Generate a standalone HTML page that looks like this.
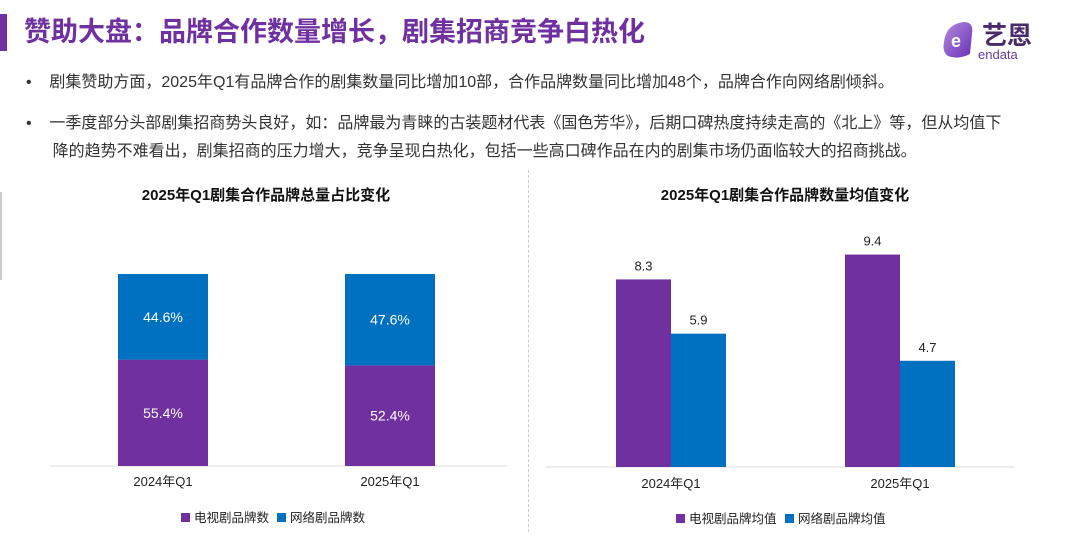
<!DOCTYPE html>
<html><head><meta charset="utf-8">
<style>
body{margin:0;width:1080px;height:537px;background:#fff;position:relative;overflow:hidden;font-family:"Liberation Sans","Noto Sans CJK SC",sans-serif;}
.abs{position:absolute;}
</style></head>
<body>
<div class="abs" style="left:0;top:14px;width:7px;height:37px;background:#7030a0"></div>
<div class="abs" style="left:24px;top:14px;font-size:27px;font-weight:bold;color:#7030a0;line-height:36px;white-space:nowrap">赞助大盘：品牌合作数量增长，剧集招商竞争白热化</div>
<div class="abs" style="left:940px;top:14px;width:115px;height:50px">
<svg width="115" height="50"><defs><linearGradient id="lg" x1="0" y1="0" x2="1" y2="1"><stop offset="0" stop-color="#b58be0"/><stop offset="1" stop-color="#6a2fb5"/></linearGradient></defs>
<path d="M4 28 Q6 10 24 8 Q34 8 32 20 L30 40 Q18 46 8 42 Q2 38 4 28Z" fill="url(#lg)"/>
<text x="11" y="33" font-size="18" font-weight="bold" fill="#fff" font-family="Liberation Sans">e</text>
<text x="42" y="30" font-size="25" font-weight="bold" fill="#4a2a6a" font-family="Noto Sans CJK SC">艺恩</text>
<text x="38" y="45" font-size="13" fill="#6a3aa0" font-family="Liberation Sans">endata</text></svg></div>
<div class="abs" style="left:26px;top:72px;font-size:16px;color:#333;line-height:22px;white-space:nowrap">•&nbsp;&nbsp;&nbsp;&nbsp;剧集赞助方面，2025年Q1有品牌合作的剧集数量同比增加10部，合作品牌数量同比增加48个，品牌合作向网络剧倾斜。</div>
<div class="abs" style="left:26px;top:110px;font-size:16px;color:#333;line-height:28px;width:1040px;white-space:nowrap">•&nbsp;&nbsp;&nbsp;&nbsp;一季度部分头部剧集招商势头良好，如：品牌最为青睐的古装题材代表《国色芳华》，后期口碑热度持续走高的《北上》等，但从均值下<br>&nbsp;&nbsp;&nbsp;&nbsp;&nbsp;&nbsp;降的趋势不难看出，剧集招商的压力增大，竞争呈现白热化，包括一些高口碑作品在内的剧集市场仍面临较大的招商挑战。</div>
<div class="abs" style="left:0;top:192px;width:2px;height:88px;background:#ccc"></div>
<div class="abs" style="left:528px;top:170px;height:362px;border-left:1px dashed #ccc"></div>
<svg id="c" class="abs" style="left:0;top:0" width="1080" height="537"></svg>
<script>
const cats=["2024年Q1","2025年Q1"];
const tvShare=[55.4,52.4];
const netShare=[44.6,47.6];
const tvAvg=[8.3,9.4];
const netAvg=[5.9,4.7];
const P="#7030a0",B="#0070c0";
const svg=document.getElementById('c');
function el(t,a,txt){const e=document.createElementNS("http://www.w3.org/2000/svg",t);for(const k in a)e.setAttribute(k,a[k]);if(txt!=null)e.textContent=txt;svg.appendChild(e);return e;}
const F='"Liberation Sans","Noto Sans CJK SC",sans-serif';
let t=el('text',{x:266,y:200,'text-anchor':'middle','font-size':15,'font-weight':'bold','font-family':F,fill:'#111'},'2025年Q1剧集合作品牌总量占比变化');

const base1=466,h1=192;
const ys=v=>v/100*h1;
let ax=el('line',{x1:50,x2:507,y1:base1,y2:base1,stroke:'#ddd'});

const lx=[163,390];
cats.forEach((c,i)=>{
 const x=lx[i]-45,htv=ys(tvShare[i]),hn=ys(netShare[i]);
 let r=el('rect',{x:x,y:base1-htv,width:90,height:htv,fill:P});
 
 let r2=el('rect',{x:x,y:base1-htv-hn,width:90,height:hn,fill:B});
 
 let a=el('text',{x:lx[i],y:base1-htv/2+5,'text-anchor':'middle','font-size':14,fill:'#fff','font-family':F},tvShare[i].toFixed(1)+'%');
 
 let b=el('text',{x:lx[i],y:base1-htv-hn/2+5,'text-anchor':'middle','font-size':14,fill:'#fff','font-family':F},netShare[i].toFixed(1)+'%');
 
 let l=el('text',{x:lx[i],y:486,'text-anchor':'middle','font-size':13,fill:'#222','font-family':F},c);
 
});
function legend(x,y,names,id){
 let cx=x;
 names.forEach((n,i)=>{
  let s=el('rect',{x:cx,y:y-9,width:9,height:9,fill:i?B:P});
  
  let tx=el('text',{x:cx+13,y:y,'font-size':12.5,fill:'#222','font-family':F},n);
  
  cx+=13+n.length*13+5;
 });
}
legend(181,522,["电视剧品牌数","网络剧品牌数"],'left');
t=el('text',{x:785,y:200,'text-anchor':'middle','font-size':15,'font-weight':'bold','font-family':F,fill:'#111'},'2025年Q1剧集合作品牌数量均值变化');

const base2=467,k=22.6;
ax=el('line',{x1:545,x2:1015,y1:base2,y2:base2,stroke:'#ddd'});

const rx=[671,900];
cats.forEach((c,i)=>{
 [[tvAvg,P,-55,'tv'],[netAvg,B,0,'net']].forEach(([arr,col,off,nm])=>{
  const h=arr[i]*k;
  let r=el('rect',{x:rx[i]+off,y:base2-h,width:55,height:h,fill:col});
  
  let v=el('text',{x:rx[i]+off+27.5,y:base2-h-9,'text-anchor':'middle','font-size':13,fill:'#222','font-family':F},arr[i].toFixed(1));
  
 });
 let l=el('text',{x:rx[i],y:488,'text-anchor':'middle','font-size':13,fill:'#222','font-family':F},c);
 
});
legend(676,523,["电视剧品牌均值","网络剧品牌均值"],'right');
</script>
</body></html>
